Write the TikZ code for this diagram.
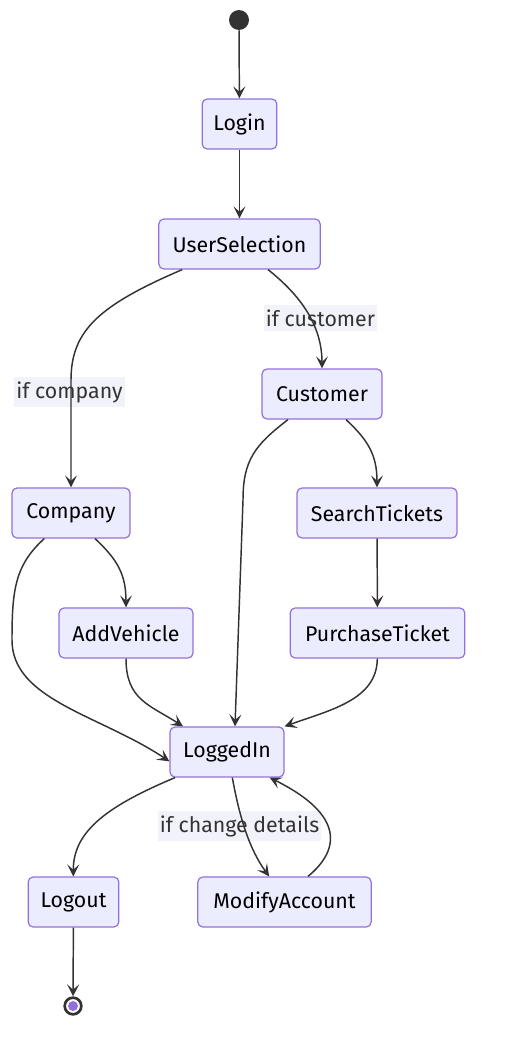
\documentclass[tikz,border=0pt]{standalone}
\usepackage{fontspec}
\setmainfont{Fira Sans}
\usetikzlibrary{arrows.meta}
\definecolor{boxfill}{HTML}{ECECFF}
\definecolor{boxline}{HTML}{9370DB}
\definecolor{edgecol}{HTML}{333333}
\definecolor{lblfill}{HTML}{F2F2FA}

\begin{document}
\begin{tikzpicture}[x=0.75pt, y=-0.75pt,
  st/.style={draw=boxline, fill=boxfill, rounded corners=3.75pt, line width=0.9pt,
    minimum height=37.5pt, inner sep=0pt, text=black, font=\fontsize{16}{18}\selectfont},
  tr/.style={draw=edgecol, line width=1.1pt, -{Stealth[length=9pt, width=9pt, inset=4pt]}},
  cond/.style={fill=lblfill, inner xsep=1.5pt, minimum height=19pt, text=edgecol, font=\fontsize{16}{18}\selectfont}]
\useasboundingbox (0,0) rectangle (508,1042);

\node[fill=edgecol, circle, inner sep=0pt, minimum size=15pt] (S) at (239,20) {};
\node[st, minimum width=56pt] (A) at (239.5,124) {Login};
\node[st, minimum width=121pt] (B) at (239.5,244) {UserSelection};
\node[st, minimum width=90pt] (D) at (322,394) {Customer};
\node[st, minimum width=88.5pt] (C) at (71,513) {Company};
\node[st, minimum width=120pt] (F) at (377,513) {SearchTickets};
\node[st, minimum width=100.5pt] (E) at (126,633) {AddVehicle};
\node[st, minimum width=131pt] (G) at (377.5,633) {PurchaseTicket};
\node[st, minimum width=85.5pt] (H) at (227,752) {LoggedIn};
\node[st, minimum width=68pt] (I) at (73.5,902) {Logout};
\node[st, minimum width=130pt] (J) at (284.5,902) {ModifyAccount};
\node[draw=edgecol, fill=white, circle, line width=2pt, inner sep=0pt, minimum size=12.5pt] (K) at (73,1006) {};
\node[fill=boxline, circle, inner sep=0pt, minimum size=7.5pt] (K2) at (K) {};

\node[cond] (label1) at (69.5,392) {if company};
\node[cond] (label2) at (320.5,318) {if customer};
\node[cond] (label3) at (239.5,826) {if change details};

\draw[tr] (S) -- (A);
\draw[tr] (A) -- (B);
\draw[tr] ([xshift=-43pt]B.south) .. controls (100,305) and (71,330) .. (71,380) -- (C);
\draw[tr] ([xshift=21.4pt]B.south) .. controls (300,295) and (322,325) .. (D);
\draw[tr] ([xshift=-25.5pt]D.south) .. controls (255,445) and (243,460) .. (243,500) -- ([xshift=6pt]H.north);
\draw[tr] ([xshift=18pt]D.south) .. controls (368,440) and (377,455) .. (F);
\draw[tr] (F) -- (G);
\draw[tr] ([xshift=18pt]C.south) .. controls (118,560) and (126,575) .. (E);
\draw[tr] ([xshift=-20pt]C.south) .. controls (15,565) and (12,590) .. (12,640)
  .. controls (12,700) and (100,715) .. ([yshift=-7pt]H.west);
\draw[tr] (E) .. controls (126,700) and (150,705) .. ([xshift=-33pt]H.north);
\draw[tr] (G) .. controls (377,700) and (330,710) .. (H.north east);
\draw[tr] ([xshift=-39pt]H.south) .. controls (110,805) and (73,830) .. (I);
\draw[tr] ([xshift=4pt]H.south) .. controls (240,820) and (250,850) .. ([xshift=-11.5pt]J.north);
\draw[tr] ([xshift=17.6pt]J.north) .. controls (340,850) and (345,815) .. ([xshift=32pt]H.south);
\draw[tr] (I) -- (K);
\end{tikzpicture}
\end{document}
